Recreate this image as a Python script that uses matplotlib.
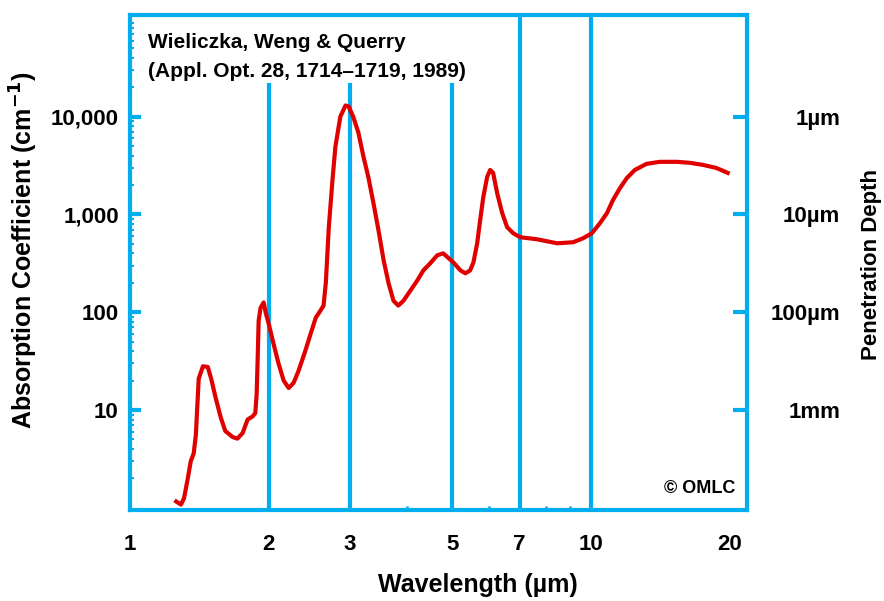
import matplotlib
matplotlib.use('Agg')
import matplotlib.pyplot as plt
from matplotlib.ticker import FixedLocator, NullFormatter

plt.rcParams['font.family'] = ['Liberation Sans', 'DejaVu Sans']
plt.rcParams['font.weight'] = 'bold'

# water absorption spectrum, wavelength in um, absorption coefficient in 1/cm
wavelength = [1.26, 1.29, 1.31, 1.335, 1.355, 1.375, 1.39, 1.40, 1.41, 1.44,
              1.475, 1.50, 1.535, 1.575, 1.61, 1.67, 1.71, 1.755, 1.80, 1.845,
              1.87, 1.883, 1.892, 1.902, 1.92, 1.95, 1.97, 2.0, 2.05, 2.10,
              2.155, 2.21, 2.265, 2.32, 2.40, 2.465, 2.53, 2.59, 2.63, 2.66,
              2.70, 2.75, 2.79, 2.86, 2.935, 2.98, 3.05, 3.13, 3.21, 3.29,
              3.375, 3.46, 3.55, 3.64, 3.73, 3.82, 3.92, 4.06, 4.20, 4.33,
              4.48, 4.64, 4.78, 4.89, 5.03, 5.21, 5.34, 5.47, 5.56, 5.665,
              5.75, 5.84, 5.955, 6.045, 6.135, 6.26, 6.42, 6.58, 6.78, 7.02,
              7.64, 8.44, 9.14, 9.61, 10.05, 10.46, 10.83, 11.16, 11.56, 11.97,
              12.45, 13.2, 14.1, 15.35, 16.4, 17.5, 18.7, 19.8]
mua = [1.16, 1.08, 1.25, 2.0, 3.0, 3.6, 5.6, 11, 21, 28,
       27.6, 21, 13.2, 8.3, 6.1, 5.3, 5.1, 5.8, 8.0, 8.6,
       9.3, 14.5, 32, 82, 111, 126, 99, 76, 47, 30,
       20, 16.8, 19, 25, 40, 60, 88, 104, 117, 200,
       740, 2250, 4900, 10000, 13000, 12700, 10000, 6850, 3900, 2400,
       1300, 690, 340, 197, 131, 117, 131, 167, 211, 268,
       316, 382, 400, 364, 323, 268, 250, 268, 323, 507,
       873, 1500, 2420, 2850, 2660, 1650, 1030, 740, 643, 585,
       557, 507, 519, 570, 643, 814, 1030, 1400, 1860, 2360,
       2850, 3290, 3450, 3450, 3370, 3210, 2990, 2660]

x_ticks = [1, 2, 3, 5, 7, 10, 20]
x_minor = [4, 6, 8, 9, 20]
grid_short = [2, 3, 5]
grid_full = [7, 10]
y_ticks = [10, 100, 1000, 10000]
y_labels = ['10', '100', '1,000', '10,000']
depth_labels = ['1mm', '100\u00b5m', '10\u00b5m', '1\u00b5m']

blue = '#00AEEF'
red = '#E00000'

fig = plt.figure(figsize=(8.84, 6.01), dpi=100)
ax = fig.add_axes([0.147, 0.1514, 0.698, 0.824])

for g in grid_short:
    ax.axvline(g, ymax=0.859, color=blue, lw=3, zorder=1)
for g in grid_full:
    ax.axvline(g, color=blue, lw=3, zorder=1)

ax.plot(wavelength, mua, color=red, lw=3, zorder=3)

ax.set_xscale('log')
ax.set_yscale('log')
ax.set_xlim(1, 21.8)
ax.set_ylim(0.95, 1.1e5)

ax.xaxis.set_major_locator(FixedLocator(x_ticks))
ax.set_xticklabels([str(v) for v in x_ticks])
ax.xaxis.set_minor_locator(FixedLocator(x_minor))
ax.xaxis.set_minor_formatter(NullFormatter())
ax.tick_params(axis='x', which='major', length=0, pad=17, labelsize=16)
ax.tick_params(axis='x', which='minor', direction='in', length=3,
               width=2, color=blue)

ax.yaxis.set_major_locator(FixedLocator(y_ticks))
ax.set_yticklabels(y_labels)
ax.yaxis.set_minor_formatter(NullFormatter())
ax.tick_params(axis='y', which='major', direction='in', length=8, width=3,
               color=blue, pad=8, labelsize=16)
ax.tick_params(axis='y', which='minor', direction='in', length=3, width=1.5,
               color=blue)

for s in ax.spines.values():
    s.set_color(blue)
    s.set_linewidth(3)

ax2 = ax.twinx()
ax2.set_yscale('log')
ax2.set_ylim(ax.get_ylim())
ax2.yaxis.set_major_locator(FixedLocator(y_ticks))
ax2.set_yticklabels(depth_labels)
ax2.yaxis.set_minor_locator(FixedLocator([]))
ax2.tick_params(axis='y', which='major', direction='in', length=10, width=3,
                color=blue, pad=67, labelsize=16)
for lbl in ax2.get_yticklabels():
    lbl.set_horizontalalignment('right')
for s in ax2.spines.values():
    s.set_visible(False)

ax.set_xlabel('Wavelength (\u00b5m)', fontsize=18, fontweight='bold')
ax.xaxis.set_label_coords(0.564, -0.128)
ax.set_ylabel('Absorption Coefficient (cm$^{\\mathbf{-1}}$)', fontsize=18,
              fontweight='bold')
ax.yaxis.set_label_coords(-0.145, 0.525)
ax2.set_ylabel('Penetration Depth', fontsize=16, fontweight='bold')
ax2.yaxis.set_label_coords(1.184, 0.495)

ax.text(0.029, 0.945, 'Wieliczka, Weng & Querry', transform=ax.transAxes,
        fontsize=15, fontweight='bold', va='center', ha='left')
ax.text(0.029, 0.885, '(Appl. Opt. 28, 1714\u20131719, 1989)',
        transform=ax.transAxes, fontsize=15, fontweight='bold',
        va='center', ha='left')
ax.text(0.981, 0.044, '\u00a9 OMLC', transform=ax.transAxes, fontsize=13,
        fontweight='bold', va='center', ha='right')

fig.savefig('out.png', dpi=100)
